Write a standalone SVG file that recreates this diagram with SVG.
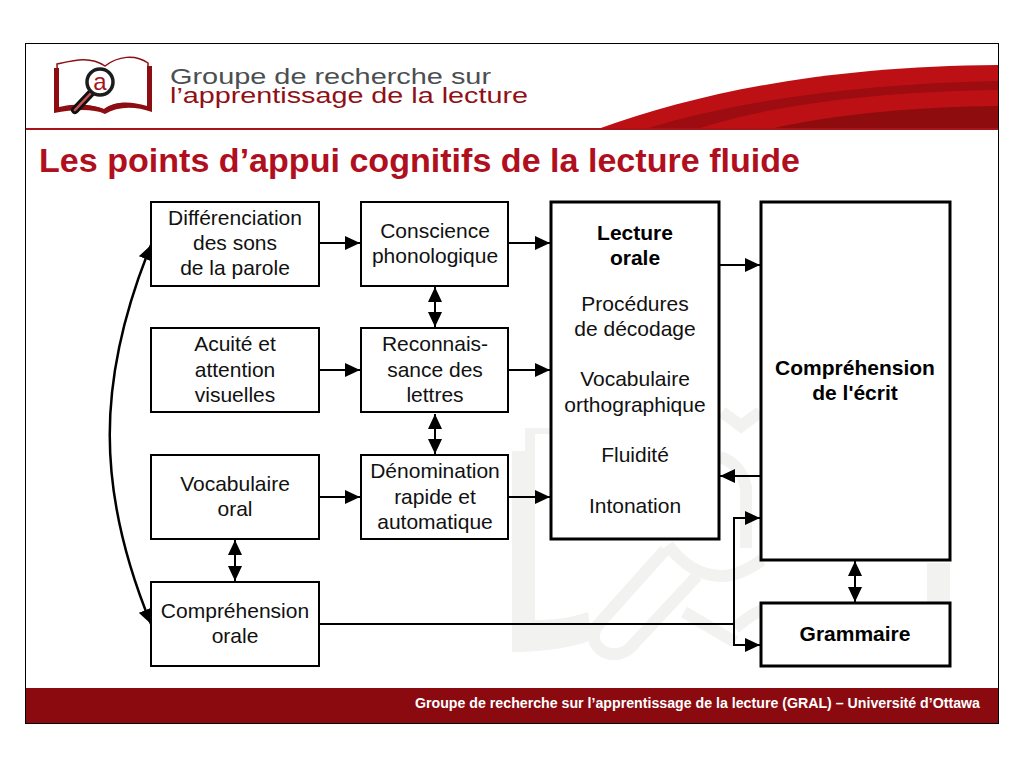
<svg xmlns="http://www.w3.org/2000/svg" width="1024" height="768" viewBox="0 0 1024 768">
<style>
text{font-family:"Liberation Sans",Arial,sans-serif}
.n{fill:#fff;stroke:#000;stroke-width:2}
.nt{fill:#fff;stroke:#000;stroke-width:3}
.ntg{fill:none;stroke:#000;stroke-width:3}
.l{font-size:21px;fill:#111;text-anchor:middle}
.b{font-size:21px;fill:#000;text-anchor:middle;font-weight:bold}
.c{fill:none;stroke:#000;stroke-width:2}
.wm{fill:none;stroke:#f2f2f1;stroke-width:12}
.wf{fill:#f2f2f1}
</style>
<defs>
<marker id="a" markerUnits="userSpaceOnUse" markerWidth="16" markerHeight="14" refX="15" refY="7" orient="auto-start-reverse"><path d="M0 0L15 7L0 14Z" fill="#000"/></marker>
</defs>
<rect width="1024" height="768" fill="#fff"/>
<g id="watermark">
<path class="wf" d="M512 451H525V428H552V434H535V620C555 620 570 618 588 612L592 640C565 650 535 652 512 652Z"/>
<path class="wm" d="M665 550L597 626Q588 642 604 652Q618 658 630 648L697 576"/>
<path class="wm" d="M668 545C685 568 705 576 722 576C735 576 748 570 762 560"/>
<path class="wm" stroke-width="14" d="M684 612L735 642M735 628Q750 615 762 610"/>
<path class="wm" d="M722 412L741 426L760 412"/>
<path class="wm" d="M720 457C735 462 745 475 746 490M746 485V548"/>
<rect class="wf" x="927" y="563" width="23" height="39"/>
</g>
<g id="header">
<path d="M598 129C700 92 830 66 998 65V129Z" fill="#bd1014"/>
<path d="M645 129C740 100 860 84 998 81V90C860 92 760 108 697 129Z" fill="#9c0c10"/>
<path d="M770 129C840 113 920 107 998 106V129Z" fill="#8e0c0e"/>
<rect x="26" y="128" width="972" height="2" fill="#a5141a"/>
<g id="logo">
<path d="M57 64C75 60 90 56 105 66C118 56 135 54 148 63V108C130 102 115 102 104 110C90 104 72 104 58 108Z" fill="#fff" stroke="#8c0d12" stroke-width="1.500"/>
<path d="M54 68H59V108C75 104 90 104 104 109C115 101 130 101 147 106V66H152V112C135 106 118 106 105 114C92 108 72 110 54 113Z" fill="#8c0d12"/>
<path d="M75 110L92 92" stroke="#111" stroke-width="8" stroke-linecap="round"/>
<path d="M75 110L92 92" stroke="#c55" stroke-width="2.500" stroke-linecap="round"/>
<circle cx="100" cy="82" r="13" fill="#fff" stroke="#1c1c1c" stroke-width="3.500"/>
<text x="100" y="90" font-size="24" fill="#a5141a" text-anchor="middle">a</text>
</g>
<text x="170" y="84" font-size="22" fill="#4c4f50" textLength="321" lengthAdjust="spacingAndGlyphs">Groupe de recherche sur</text>
<text x="170" y="103" font-size="22" fill="#8f1116" textLength="358" lengthAdjust="spacingAndGlyphs">l’apprentissage de la lecture</text>
</g>
<text id="title" x="39" y="172" font-size="33" font-weight="bold" fill="#b0101e" textLength="761" lengthAdjust="spacingAndGlyphs">Les points d’appui cognitifs de la lecture fluide</text>
<g id="connectors">
<path class="c" marker-end="url(#a)" d="M320 243H360"/>
<path class="c" marker-end="url(#a)" d="M320 370H360"/>
<path class="c" marker-end="url(#a)" d="M320 497H360"/>
<path class="c" marker-end="url(#a)" d="M509 243H550"/>
<path class="c" marker-end="url(#a)" d="M509 370H550"/>
<path class="c" marker-end="url(#a)" d="M509 497H550"/>
<path class="c" marker-end="url(#a)" d="M720 265H760"/>
<path class="c" marker-end="url(#a)" d="M760 476H720"/>
<path class="c" marker-start="url(#a)" marker-end="url(#a)" d="M435 287V327"/>
<path class="c" marker-start="url(#a)" marker-end="url(#a)" d="M435 414V454"/>
<path class="c" marker-start="url(#a)" marker-end="url(#a)" d="M235 540V581"/>
<path class="c" marker-start="url(#a)" marker-end="url(#a)" d="M855 561V602"/>
<path class="c" d="M320 624H734"/>
<path class="c" marker-end="url(#a)" d="M734 624V518H760"/>
<path class="c" marker-end="url(#a)" d="M734 624V645H760"/>
<path class="c" stroke-width="2.500" style="stroke-width:2.500px" marker-start="url(#a)" marker-end="url(#a)" d="M151 245C96 380 96 490 151 624"/>
</g>
<g id="n1"><rect class="n" x="151" y="202" width="168" height="84"/><text class="l" x="235" y="225">Différenciation</text><text class="l" x="235" y="250">des sons</text><text class="l" x="235" y="275">de la parole</text></g>
<g id="n2"><rect class="n" x="151" y="328" width="168" height="84"/><text class="l" x="235" y="351">Acuité et</text><text class="l" x="235" y="377">attention</text><text class="l" x="235" y="402">visuelles</text></g>
<g id="n3"><rect class="n" x="151" y="455" width="168" height="84"/><text class="l" x="235" y="491">Vocabulaire</text><text class="l" x="235" y="516">oral</text></g>
<g id="n4"><rect class="n" x="151" y="582" width="168" height="84"/><text class="l" x="235" y="618">Compréhension</text><text class="l" x="235" y="643">orale</text></g>
<g id="n5"><rect class="n" x="361" y="202" width="147" height="84"/><text class="l" x="435" y="238">Conscience</text><text class="l" x="435" y="263">phonologique</text></g>
<g id="n6"><rect class="n" x="361" y="328" width="147" height="84"/><text class="l" x="435" y="351">Reconnais-</text><text class="l" x="435" y="377">sance des</text><text class="l" x="435" y="402">lettres</text></g>
<g id="n7"><rect class="n" x="361" y="455" width="147" height="84"/><text class="l" x="435" y="478">Dénomination</text><text class="l" x="435" y="504">rapide et</text><text class="l" x="435" y="529">automatique</text></g>
<g id="n8"><rect class="nt" x="551" y="202" width="168" height="337"/><text class="b" x="635" y="240">Lecture</text><text class="b" x="635" y="265">orale</text><text class="l" x="635" y="311">Procédures</text><text class="l" x="635" y="336">de décodage</text><text class="l" x="635" y="386">Vocabulaire</text><text class="l" x="635" y="412">orthographique</text><text class="l" x="635" y="462">Fluidité</text><text class="l" x="635" y="513">Intonation</text></g>
<g id="n9"><rect class="nt" x="761" y="202" width="189" height="358"/><text class="b" x="855" y="375">Compréhension</text><text class="b" x="855" y="400">de l'écrit</text></g>
<g id="n10"><rect class="nt" x="761" y="603" width="189" height="63"/><text class="b" x="855" y="641">Grammaire</text></g>
<g id="footer"><rect x="26" y="688" width="972" height="35" fill="#8b0a10"/><text x="980" y="708" font-size="14.100" font-weight="bold" fill="#fff" text-anchor="end" textLength="565" lengthAdjust="spacingAndGlyphs">Groupe de recherche sur l’apprentissage de la lecture (GRAL) – Université d’Ottawa</text></g>
<rect id="frame" x="25.500" y="43.500" width="973" height="680" fill="none" stroke="#000"/>
</svg>
